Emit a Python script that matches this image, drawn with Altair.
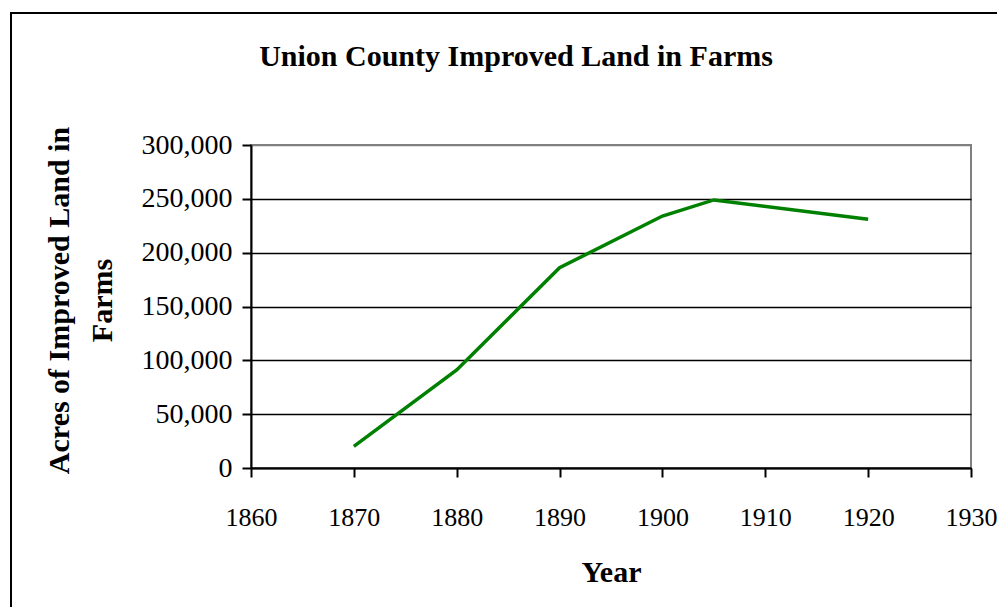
import altair as alt
import pandas as pd

# ---- data ----
years = [1870, 1880, 1890, 1900, 1905, 1920]
acres = [20000, 91000, 186000, 234000, 249000, 231000]
x_ticks = [1860, 1870, 1880, 1890, 1900, 1910, 1920, 1930]
y_ticks = [0, 50000, 100000, 150000, 200000, 250000, 300000]
title_text = "Union County Improved Land in Farms"
x_title = "Year"
y_title = ["Acres of Improved Land in", "Farms"]

FONT = "Liberation Serif"
W, H = 720, 323

df = pd.DataFrame({"Year": years, "Acres": acres})

common_axis = dict(
    labelFont=FONT, titleFont=FONT, labelColor="black", titleColor="black",
    titleFontSize=30, titleFontWeight="bold",
    domainColor="black", tickColor="black", tickSize=9, tickWidth=2, domainWidth=2,
)

line = alt.Chart(df).mark_line(color="#008000", strokeWidth=3.5).encode(
    x=alt.X(
        "Year:Q",
        scale=alt.Scale(domain=[1860, 1930], nice=False, zero=False),
        axis=alt.Axis(
            values=x_ticks, format="d", title=x_title, grid=False,
            labelFlush=False, labelOverlap=False, labelBound=False,
            labelFontSize=26, labelBaseline="alphabetic", labelPadding=48,
            titleX=360, titleY=113, titleBaseline="alphabetic", titleAlign="center",
            **common_axis,
        ),
    ),
    y=alt.Y(
        "Acres:Q",
        scale=alt.Scale(domain=[0, 300000], nice=False),
        axis=alt.Axis(
            values=y_ticks, format=",d", title=y_title, grid=True,
            gridColor={"condition": {"test": "datum.value == 300000", "value": "#808080"}, "value": "black"},
            gridWidth=1.6,
            labelFontSize=28, labelPadding=10,
            titleX=-183, titleY=155, titleAngle=270, titleAlign="center",
            titleBaseline="alphabetic", titleLineHeight=43,
            **common_axis,
        ),
    ),
)

border = alt.Chart(pd.DataFrame({"k": [0]})).mark_rect(
    filled=False, stroke="black", strokeWidth=2
).encode(
    x=alt.value(-240), x2=alt.value(780), y=alt.value(-132), y2=alt.value(490)
)

title = alt.Chart(pd.DataFrame({"t": [title_text]})).mark_text(
    font=FONT, fontSize=30, fontWeight="bold", color="black",
    align="center", baseline="alphabetic"
).encode(text="t:N", x=alt.value(265), y=alt.value(-79))

chart = alt.layer(border, line, title).properties(
    width=W, height=H,
    background="white",
    autosize=alt.AutoSizeParams(type="none"),
    padding={"left": 243, "top": 137, "right": 26, "bottom": 139},
).configure_view(
    stroke="#808080", strokeWidth=2
)

chart.save("out.html", embed_options={"renderer": "svg", "actions": False})
